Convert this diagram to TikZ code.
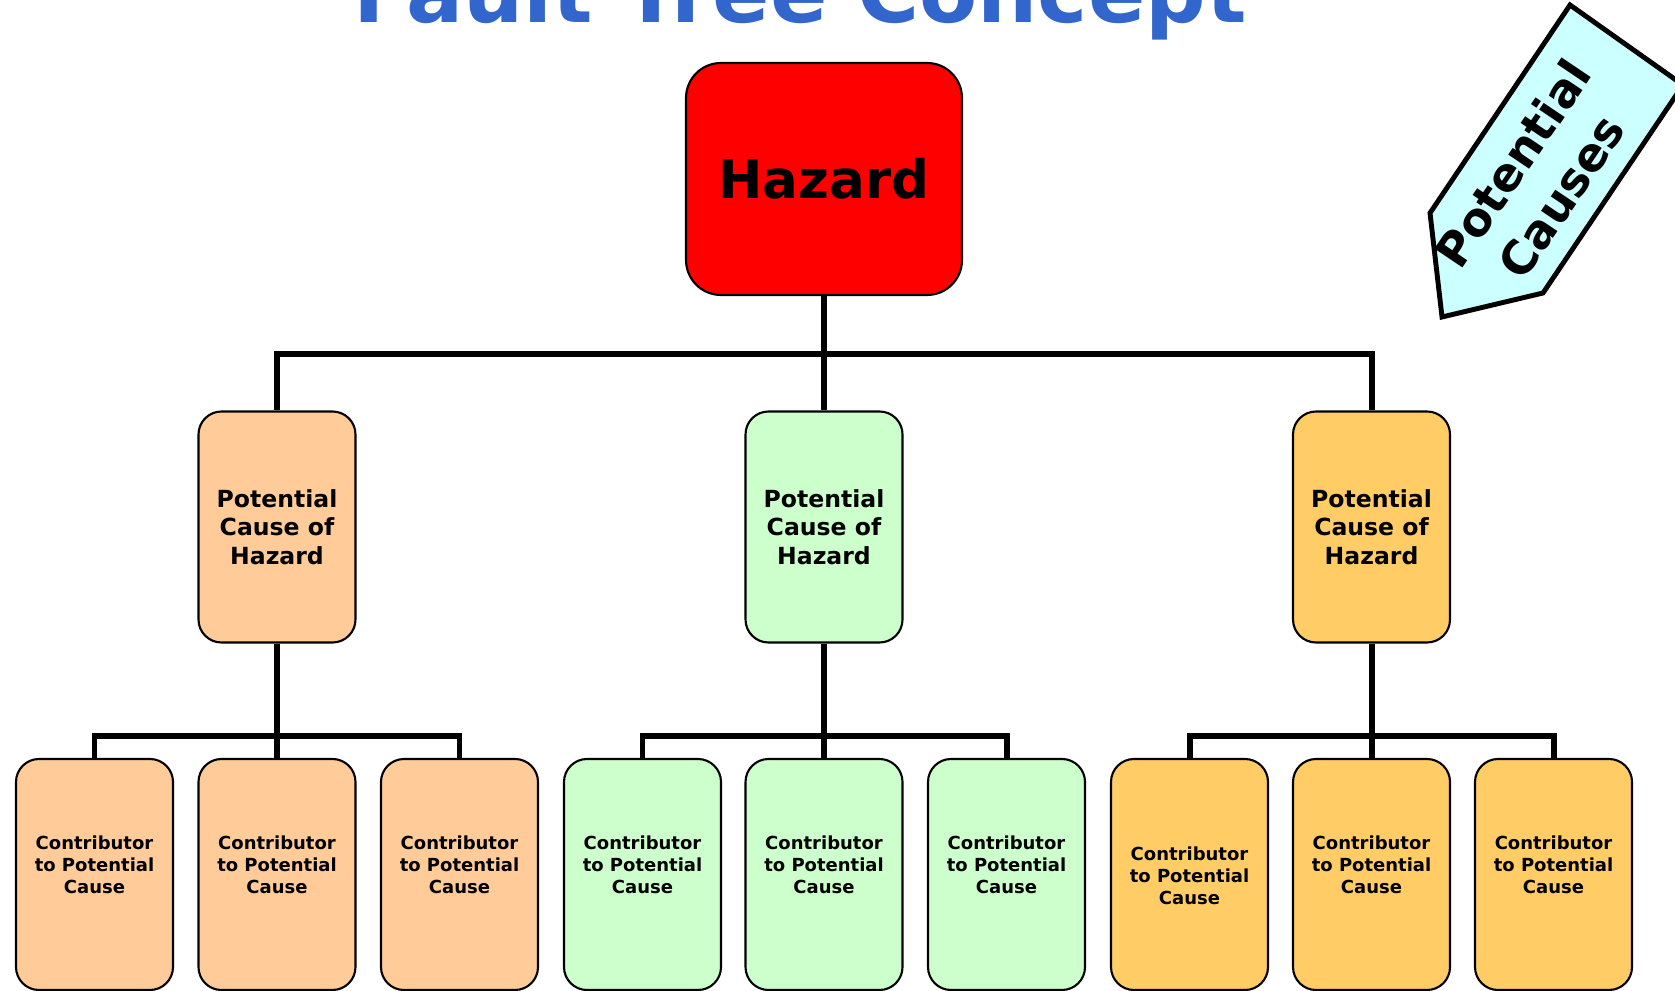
\documentclass[tikz,border=0pt]{standalone}
\usepackage{fontspec}
\setmainfont{DejaVu Sans}
\usetikzlibrary{backgrounds}
\definecolor{titleblue}{HTML}{3366CC}
\definecolor{hazardred}{HTML}{FF0000}
\definecolor{peach}{HTML}{FFCC99}
\definecolor{mint}{HTML}{CCFFCC}
\definecolor{apricot}{HTML}{FFCC66}
\definecolor{palecyan}{HTML}{CCFFFF}

\begin{document}
\begin{tikzpicture}[
	hazardbox/.style={draw=black, semithick, fill=hazardred, rounded corners=0.35cm, minimum width=2.76cm, minimum height=2.32cm, inner sep=0pt, font=\bfseries\fontsize{15.1}{18}\selectfont},
	causebox/.style={draw=black, semithick, rounded corners=0.23cm, minimum width=1.57cm, minimum height=2.31cm, inner sep=0pt, align=center, font=\bfseries\fontsize{6.7}{8.05}\selectfont},
	contribbox/.style={draw=black, semithick, rounded corners=0.23cm, minimum width=1.57cm, minimum height=2.31cm, inner sep=0pt},
	contribtext/.style={align=center, inner sep=0pt, font=\bfseries\fontsize{5.12}{6.26}\selectfont},
	conn/.style={line width=1.7pt}
]
	\useasboundingbox (0,0) rectangle (16.75,9.9);

	%title
	\node[anchor=base, text=titleblue, font=\bfseries\fontsize{24.1}{28}\selectfont] (title) at (8.00,9.67) {Fault Tree Concept};

	%top event
	\node[hazardbox] (hazard) at (8.24,8.11) {Hazard};

	%potential causes
	\node[causebox, fill=peach]   (cause1) at (2.77,4.63)   {Potential\\Cause of\\Hazard};
	\node[causebox, fill=mint]    (cause2) at (8.24,4.63)   {Potential\\Cause of\\Hazard};
	\node[causebox, fill=apricot] (cause3) at (13.715,4.63) {Potential\\Cause of\\Hazard};

	%contributors
	\node[contribbox, fill=peach]   (contrib11) at (0.945,1.155)  {};
	\node[contribbox, fill=peach]   (contrib12) at (2.77,1.155)   {};
	\node[contribbox, fill=peach]   (contrib13) at (4.595,1.155)  {};
	\node[contribbox, fill=mint]    (contrib21) at (6.425,1.155)  {};
	\node[contribbox, fill=mint]    (contrib22) at (8.24,1.155)   {};
	\node[contribbox, fill=mint]    (contrib23) at (10.065,1.155) {};
	\node[contribbox, fill=apricot] (contrib31) at (11.895,1.155) {};
	\node[contribbox, fill=apricot] (contrib32) at (13.715,1.155) {};
	\node[contribbox, fill=apricot] (contrib33) at (15.535,1.155) {};
	%
	\node[contribtext] (text11) at (0.945,1.25)  {Contributor\\to Potential\\Cause};
	\node[contribtext] (text12) at (2.77,1.25)   {Contributor\\to Potential\\Cause};
	\node[contribtext] (text13) at (4.595,1.25)  {Contributor\\to Potential\\Cause};
	\node[contribtext] (text21) at (6.425,1.25)  {Contributor\\to Potential\\Cause};
	\node[contribtext] (text22) at (8.24,1.25)   {Contributor\\to Potential\\Cause};
	\node[contribtext] (text23) at (10.065,1.25) {Contributor\\to Potential\\Cause};
	\node[contribtext] (text31) at (11.895,1.14) {Contributor\\to Potential\\Cause};
	\node[contribtext] (text32) at (13.715,1.25) {Contributor\\to Potential\\Cause};
	\node[contribtext] (text33) at (15.535,1.25) {Contributor\\to Potential\\Cause};

	%lines
	\draw[conn] (hazard.south) -- ++(0,-0.58) -| (cause1.north);
	\draw[conn] (hazard.south) -- (cause2.north);
	\draw[conn] (hazard.south) -- ++(0,-0.58) -| (cause3.north);
	%
	\draw[conn] (cause1.south) -- ++(0,-0.92) -| (contrib11.north);
	\draw[conn] (cause1.south) -- (contrib12.north);
	\draw[conn] (cause1.south) -- ++(0,-0.92) -| (contrib13.north);
	%
	\draw[conn] (cause2.south) -- ++(0,-0.92) -| (contrib21.north);
	\draw[conn] (cause2.south) -- (contrib22.north);
	\draw[conn] (cause2.south) -- ++(0,-0.92) -| (contrib23.north);
	%
	\draw[conn] (cause3.south) -- ++(0,-0.92) -| (contrib31.north);
	\draw[conn] (cause3.south) -- (contrib32.north);
	\draw[conn] (cause3.south) -- ++(0,-0.92) -| (contrib33.north);

	%arrow label
	\filldraw[draw=black, line width=1.4pt, fill=palecyan] (14.42,6.73) -- (14.30,7.77) -- (15.70,9.85) -- (16.83,9.05) -- (15.43,6.97) -- cycle;
	\node[rotate=56, align=center, font=\bfseries\fontsize{13.2}{16.6}\selectfont] (potential causes) at (15.37,8.10) {Potential\\Causes};
\end{tikzpicture}
\end{document}
